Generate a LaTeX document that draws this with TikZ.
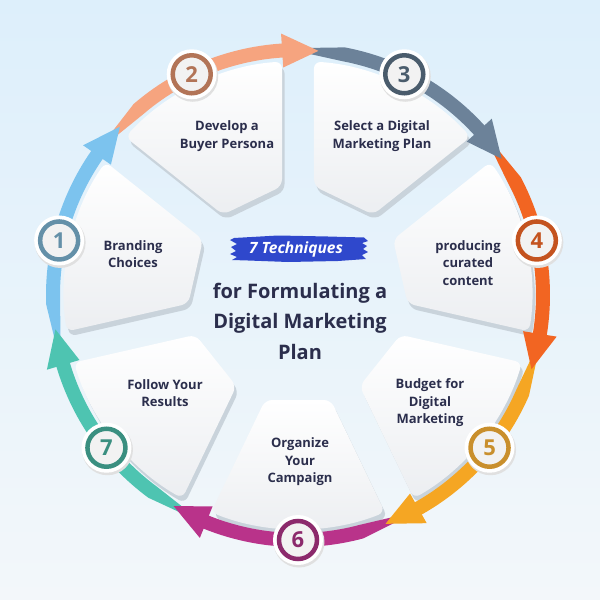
\documentclass[tikz,border=0pt]{standalone}
\usepackage{fontspec}
\setmainfont{Open Sans}
\definecolor{bgtop}{HTML}{DDEFFB}
\definecolor{bgbot}{HTML}{F3F7FA}
\definecolor{navy}{HTML}{2B2E4C}
\definecolor{paneledge}{HTML}{C9D3DB}
\definecolor{panelbot}{HTML}{ECEEF1}
\definecolor{brush}{HTML}{2F48CC}
\definecolor{arcA}{HTML}{7CC3EE}
\definecolor{arcB}{HTML}{F6A47F}
\definecolor{arcC}{HTML}{6C8299}
\definecolor{arcD}{HTML}{F26522}
\definecolor{arcE}{HTML}{F5A623}
\definecolor{arcF}{HTML}{B9338A}
\definecolor{arcG}{HTML}{4EC4B1}
\definecolor{ringA}{HTML}{6490A8}
\definecolor{ringB}{HTML}{B27457}
\definecolor{ringC}{HTML}{4A5C6C}
\definecolor{ringD}{HTML}{C4531F}
\definecolor{ringE}{HTML}{C98F2C}
\definecolor{ringF}{HTML}{8C2A6C}
\definecolor{ringG}{HTML}{3A8F80}
\begin{document}
\begin{tikzpicture}[x=1pt,y=1pt,
  panelshape/.style={insert path={(105,-32.8) -- (-21.8:234) arc[start angle=-21.8, end angle=21.8, radius=234] -- (105,32.8) -- cycle}},
  paneltext/.style={font=\bfseries\fontsize{13}{17.5}\selectfont, text=navy, align=center, inner sep=0pt},
  badgenum/.style={font=\bfseries\fontsize{22}{22}\selectfont, inner sep=0pt},
  titletext/.style={font=\bfseries\fontsize{20}{30.5}\selectfont, text=navy, align=center, inner sep=0pt}]
\useasboundingbox (-298,-305) rectangle (302,295);
\shade[top color=bgtop, bottom color=bgbot] (-298,-305) rectangle (302,295);
% panels
\foreach \ang in {167.14,115.71,64.29,12.86,-38.57,-90,-141.43}{
  \fill[paneledge, rounded corners=7pt, shift={(2.5,-5)}, rotate=\ang, panelshape];
  \shade[top color=white, bottom color=panelbot, rounded corners=7pt, rotate=\ang, panelshape];
}
% arc bodies
\foreach \ang/\col in {167.14/arcA,115.71/arcB,64.29/arcC,12.86/arcD,-38.57/arcE,-90/arcF,-141.43/arcG}{
  \pgfmathsetmacro\sA{\ang+25}
  \pgfmathsetmacro\sB{\ang+15}
  \pgfmathsetmacro\bA{\ang-23}
  \fill[\col] (\sA:247) -- (\sB:252) arc[start angle=\sB, end angle=\bA, radius=252] -- (\bA:238) arc[start angle=\bA, end angle=\sB, radius=238] -- (\sA:243) -- cycle;
}
% arrow heads
\foreach \ang/\col in {167.14/arcA,115.71/arcB,64.29/arcC,12.86/arcD,-38.57/arcE,-90/arcF,-141.43/arcG}{
  \pgfmathsetmacro\bA{\ang-22}
  \pgfmathsetmacro\tA{\ang-30.5}
  \fill[\col] (\bA:262) -- (\tA:245) -- (\bA:228) -- cycle;
}
% badges
\foreach \k/\ang/\ring in {1/167.14/ringA,2/115.71/ringB,3/64.29/ringC,4/12.86/ringD,5/-38.57/ringE,6/-90/ringF,7/-141.43/ringG}{
  \fill[black!12] ([shift={(1,-2)}]\ang:245) circle (25.5);
  \fill[white] (\ang:245) circle (25);
  \fill[black!5] (\ang:245) circle (17);
  \draw[\ring, line width=4.5pt] (\ang:245) circle (19);
  \node[badgenum, text=\ring] (b\k) at (\ang:245) {\k};
}
% panel texts
\node[paneltext] (t1) at (-165,41) {Branding\\Choices};
\node[paneltext] (t2) at (-71,159) {Develop a\\Buyer Persona};
\node[paneltext] (t3) at (84,159) {Select a Digital\\Marketing Plan};
\node[paneltext] (t4) at (170,32) {producing\\curated\\content};
\node[paneltext] (t5) at (132,-108) {Budget for\\Digital\\Marketing};
\node[paneltext] (t6) at (2,-167) {Organize\\Your\\Campaign};
\node[paneltext] (t7) at (-133,-98) {Follow Your\\Results};
% banner
\fill[brush] (-64,57) -- (-20,59.5) -- (30,58.5) -- (66,57.5) -- (70,54) -- (64,52) -- (69,49) -- (65,46) -- (70,43) -- (64,40) -- (68,36) -- (40,34) -- (-10,33) -- (-50,34.5) -- (-66,35) -- (-61,38) -- (-68,41) -- (-62,44) -- (-67,48) -- (-61,51) -- (-68,55) -- cycle;
\node[font=\bfseries\itshape\fontsize{15.5}{15.5}\selectfont, text=white, inner sep=0pt] (ban) at (-2,46) {7 Techniques};
\node[titletext] (title) at (2,-26) {for Formulating a\\Digital Marketing\\Plan};
\end{tikzpicture}
\end{document}
